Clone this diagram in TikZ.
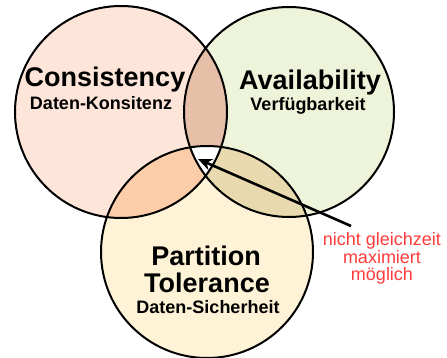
\documentclass[tikz,border=0pt]{standalone}
\usepackage{fontspec}
\setmainfont{Liberation Sans}
\usetikzlibrary{arrows.meta}
\definecolor{cfill}{HTML}{FEE5D9}
\definecolor{afill}{HTML}{EEF4DA}
\definecolor{pfill}{HTML}{FEF3D6}
\definecolor{cafill}{HTML}{E6BFA8}
\definecolor{cpfill}{HTML}{FDCCA8}
\definecolor{apfill}{HTML}{E8DAAE}
\definecolor{notered}{HTML}{FF3B3B}
\tikzset{
  ring/.style={draw=black, line width=2pt},
  bigtxt/.style={anchor=base, inner sep=0pt, font=\fontsize{27}{30}\selectfont\bfseries},
  smalltxt/.style={anchor=base, inner sep=0pt, font=\fontsize{18}{20}\selectfont\bfseries},
  notetxt/.style={anchor=base, inner sep=0pt, text=notered, font=\fontsize{18}{20}\selectfont},
  pointer/.style={draw=black, line width=2.6pt, -{Stealth[length=14pt,width=12pt]}}
}
\begin{document}
\begin{tikzpicture}[x=1pt,y=-1pt]
\useasboundingbox (0,0) rectangle (447,358);
\coordinate (cc) at (121,112);
\coordinate (ac) at (289,112);
\coordinate (pc) at (207,252);
\def\rC{106}\def\rA{105}\def\rP{106}
% fills
\fill[cfill] (cc) circle (\rC);
\fill[afill] (ac) circle (\rA);
\fill[pfill] (pc) circle (\rP);
\begin{scope}\clip (cc) circle (\rC); \fill[cafill] (ac) circle (\rA); \end{scope}
\begin{scope}\clip (cc) circle (\rC); \fill[cpfill] (pc) circle (\rP); \end{scope}
\begin{scope}\clip (ac) circle (\rA); \fill[apfill] (pc) circle (\rP); \end{scope}
\begin{scope}\clip (cc) circle (\rC); \clip (ac) circle (\rA); \fill[white] (pc) circle (\rP); \end{scope}
% outlines
\draw[ring] (cc) circle (\rC);
\draw[ring] (ac) circle (\rA);
\draw[ring] (pc) circle (\rP);
% texts
\node[bigtxt] (cons) at (105,87) {Consistency};
\node[smalltxt] (consd) at (101,110) {Daten-Konsitenz};
\node[bigtxt] (avail) at (310,90) {Availability};
\node[smalltxt] (availd) at (308,111) {Verfügbarkeit};
\node[bigtxt] (part) at (206,265) {Partition};
\node[bigtxt] (tol) at (207,292) {Tolerance};
\node[smalltxt] (partd) at (208,313) {Daten-Sicherheit};
\node[notetxt] (n1) at (382,245) {nicht gleichzeit};
\node[notetxt] (n2) at (382,263) {maximiert};
\node[notetxt] (n3) at (382,280) {möglich};
% arrow
\coordinate (arrs) at (351,226);
\coordinate (arrt) at (198,159);
\draw[pointer] (arrs) -- (arrt);
\end{tikzpicture}
\end{document}
